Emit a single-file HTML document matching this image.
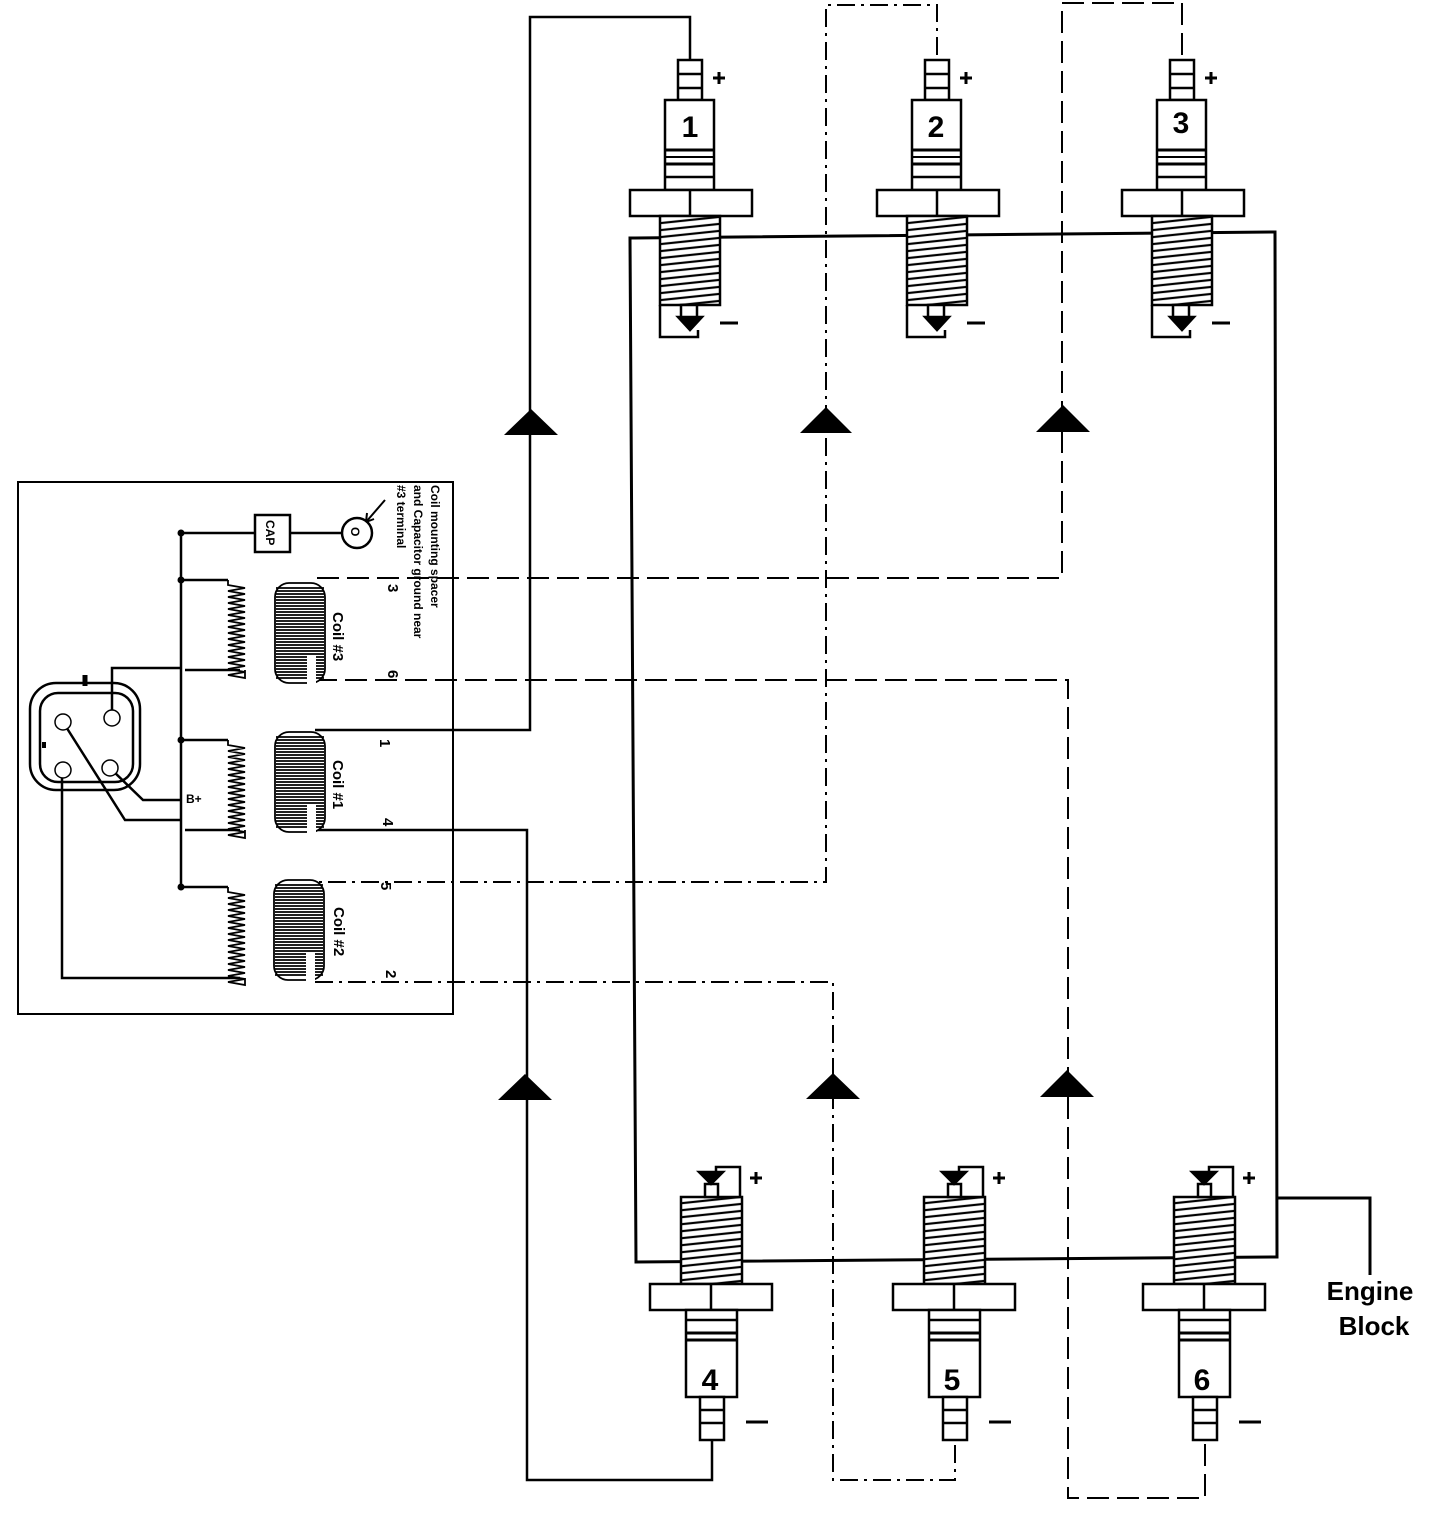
<!DOCTYPE html>
<html><head><meta charset="utf-8"><style>
html,body{margin:0;padding:0;background:#fff}
svg{display:block}
text{font-family:"Liberation Sans",Arial,sans-serif;font-weight:bold;fill:#000}
</style></head><body>
<svg width="1440" height="1538" viewBox="0 0 1440 1538" xmlns="http://www.w3.org/2000/svg">
<defs>
<pattern id="thr" width="8" height="7" patternUnits="userSpaceOnUse" patternTransform="skewY(-6)">
<rect width="8" height="7" fill="#fff"/><line x1="0" y1="3" x2="8" y2="3" stroke="#000" stroke-width="2.2"/>
</pattern>
<g id="topplug" fill="#fff" stroke="#000" stroke-width="2.5">
<rect x="-12" y="60" width="24" height="40"/>
<line x1="-12" y1="74" x2="12" y2="74"/><line x1="-12" y1="88" x2="12" y2="88"/>
<rect x="-25" y="100" width="49" height="90"/>
<line x1="-25" y1="150" x2="24" y2="150" stroke-width="3"/><line x1="-25" y1="157" x2="24" y2="157" stroke-width="2"/><line x1="-25" y1="164" x2="24" y2="164" stroke-width="3"/><line x1="-25" y1="177" x2="24" y2="177"/>
<rect x="-60" y="190" width="122" height="26"/><line x1="0" y1="190" x2="0" y2="216"/>
<rect x="-30" y="216" width="60" height="89" fill="url(#thr)"/>
<path d="M-30 305 V337 H8 V330" fill="none"/>
<rect x="-9" y="305" width="16" height="13"/>
<path d="M-12 317 L12 317 L0 330 Z" fill="#000"/>
<line x1="30" y1="323" x2="48" y2="323" stroke-width="3"/>
<path d="M23 78 H35 M29 72 V84" stroke-width="3"/>
</g>
<g id="botplug" fill="#fff" stroke="#000" stroke-width="2.5">
<rect x="-31" y="1197" width="61" height="87" fill="url(#thr)"/>
<rect x="-62" y="1284" width="122" height="26"/><line x1="-1" y1="1284" x2="-1" y2="1310"/>
<rect x="-26" y="1310" width="51" height="87"/>
<line x1="-26" y1="1320" x2="25" y2="1320"/><line x1="-26" y1="1333" x2="25" y2="1333" stroke-width="3"/><line x1="-26" y1="1340" x2="25" y2="1340" stroke-width="3"/>
<rect x="-12" y="1397" width="24" height="43"/>
<line x1="-12" y1="1410" x2="12" y2="1410"/><line x1="-12" y1="1423" x2="12" y2="1423"/>
<rect x="-7" y="1184" width="13" height="13"/>
<path d="M-13 1172 L11 1172 L-1 1184 Z" fill="#000"/>
<path d="M4 1172 V1167 H28 V1197" fill="none"/>
<line x1="34" y1="1422" x2="56" y2="1422" stroke-width="3"/>
<path d="M38 1178 H50 M44 1172 V1184" stroke-width="3"/>
</g>
<g id="coil" fill="none" stroke="#000" stroke-width="1.8">
<rect x="0" y="0" width="50" height="100" rx="14" fill="#fff"/>
<path d="M1 5 H49 M1 8 H49 M1 11 H49 M1 14 H49 M1 17 H49 M1 20 H49 M1 23 H49 M1 26 H49 M1 29 H49 M1 32 H49 M1 35 H49 M1 38 H49 M1 41 H49 M1 44 H49 M1 47 H49 M1 50 H49 M1 53 H49 M1 56 H49 M1 59 H49 M1 62 H49 M1 65 H49 M1 68 H49 M1 71 H49 M1 74 H49 M1 77 H49 M1 80 H49 M1 83 H49 M1 86 H49 M1 89 H49 M1 92 H49 M1 95 H49"/>
<rect x="32" y="72" width="9" height="29" fill="#fff" stroke="none"/>
</g>
</defs>

<!-- coil box outline -->
<rect x="18" y="482" width="435" height="532" fill="none" stroke="#000" stroke-width="2"/>

<!-- engine block ground loop -->
<g fill="none" stroke="#000" stroke-width="3">
<path d="M630 238 L1275 232 L1277 1257 L636 1262 Z"/>
<path d="M1277 1198 H1370 V1275"/>
</g>

<!-- plugs -->
<use href="#topplug" x="690"/><use href="#topplug" x="937"/><use href="#topplug" x="1182"/>
<use href="#botplug" x="712"/><use href="#botplug" x="955"/><use href="#botplug" x="1205"/>
<g font-size="30">
<text x="690" y="137" text-anchor="middle">1</text>
<text x="936" y="137" text-anchor="middle">2</text>
<text x="1181" y="133" text-anchor="middle">3</text>
<text x="710" y="1390" text-anchor="middle">4</text>
<text x="952" y="1390" text-anchor="middle">5</text>
<text x="1202" y="1390" text-anchor="middle">6</text>
</g>
<text x="1370" y="1300" font-size="26" text-anchor="middle">Engine</text>
<text x="1374" y="1335" font-size="26" text-anchor="middle">Block</text>

<!-- wires -->
<g fill="none" stroke="#000" stroke-width="2.5">
<path d="M690 60 V17 H530 V730 H315"/>
<path d="M315 830 H527 V1480 H712 V1440"/>
</g>
<g fill="none" stroke="#000" stroke-width="2" stroke-dasharray="18,6,3,6">
<path d="M937 55 V5 H826 V882 H315"/>
<path d="M315 982 H833 V1480 H955 V1440"/>
</g>
<g fill="none" stroke="#000" stroke-width="2" stroke-dasharray="22,8">
<path d="M1182 55 V3 H1062 V578 H315"/>
<path d="M315 680 H1068 V1498 H1205 V1440"/>
</g>
<g fill="#000">
<path d="M504 435 L558 435 L531 409 Z"/>
<path d="M800 433 L852 433 L826 407 Z"/>
<path d="M1036 432 L1090 432 L1063 405 Z"/>
<path d="M498 1100 L552 1100 L525 1074 Z"/>
<path d="M806 1099 L860 1099 L833 1073 Z"/>
<path d="M1040 1097 L1094 1097 L1067 1070 Z"/>
</g>

<!-- coil box contents -->
<g fill="none" stroke="#000" stroke-width="2.5">
<path d="M181 533 V887"/>
<path d="M181 533 H255 M290 533 H342"/>
<rect x="255" y="515" width="35" height="37" fill="#fff"/>
<circle cx="357" cy="533" r="15" fill="#fff"/>
<path d="M181 580 H228 M181 740 H228 M181 887 H228"/>
<path d="M240 670 H185 M240 830 H185 M240 978 H62 V772"/>
<path d="M112 718 V668 H181"/>
<path d="M110 768 L143 800 H181"/>
<path d="M63 722 L125 820 H181"/>
<rect x="30" y="683" width="110" height="107" rx="26"/>
<rect x="40" y="693" width="93" height="89" rx="18"/>
<path d="M85 675 V686" stroke-width="5"/>
<path d="M42 745 h4" stroke-width="6"/>
</g>
<g fill="#fff" stroke="#000" stroke-width="1.5">
<circle cx="63" cy="722" r="8"/><circle cx="112" cy="718" r="8"/><circle cx="63" cy="770" r="8"/><circle cx="110" cy="768" r="8"/>
</g>
<g fill="#000">
<circle cx="181" cy="533" r="3.5"/><circle cx="181" cy="580" r="3.5"/><circle cx="181" cy="740" r="3.5"/><circle cx="181" cy="887" r="3.5"/>
</g>
<g fill="none" stroke="#000" stroke-width="1.8">
<path d="M228 580 V585 l17 3 -17 3 17 3 -17 3 17 3 -17 3 17 3 -17 3 17 3 -17 3 17 3 -17 3 17 3 -17 3 17 3 -17 3 17 3 -17 3 17 3 -17 3 17 3 -17 3 17 3 -17 3 17 3 -17 3 17 3 -17 3 17 3 -17 3 17 3 V670"/>
<path d="M228 740 V745 l17 3 -17 3 17 3 -17 3 17 3 -17 3 17 3 -17 3 17 3 -17 3 17 3 -17 3 17 3 -17 3 17 3 -17 3 17 3 -17 3 17 3 -17 3 17 3 -17 3 17 3 -17 3 17 3 -17 3 17 3 -17 3 17 3 -17 3 17 3 V830"/>
<path d="M228 887 V892 l17 3 -17 3 17 3 -17 3 17 3 -17 3 17 3 -17 3 17 3 -17 3 17 3 -17 3 17 3 -17 3 17 3 -17 3 17 3 -17 3 17 3 -17 3 17 3 -17 3 17 3 -17 3 17 3 -17 3 17 3 -17 3 17 3 -17 3 17 3 V978"/>
</g>
<use href="#coil" x="275" y="583"/>
<use href="#coil" x="275" y="732"/>
<use href="#coil" x="274" y="880"/>
<g font-size="15">
<text transform="translate(333,612) rotate(90)">Coil #3</text>
<text transform="translate(333,760) rotate(90)">Coil #1</text>
<text transform="translate(334,907) rotate(90)">Coil #2</text>
<text transform="translate(388,584) rotate(90)">3</text>
<text transform="translate(388,670) rotate(90)">6</text>
<text transform="translate(380,739) rotate(90)">1</text>
<text transform="translate(383,818) rotate(90)">4</text>
<text transform="translate(381,882) rotate(90)">5</text>
<text transform="translate(386,970) rotate(90)">2</text>
</g>
<g font-size="12">
<text transform="translate(431,485) rotate(90)">Coil mounting spacer</text>
<text transform="translate(414,485) rotate(90)">and Capacitor ground near</text>
<text transform="translate(397,485) rotate(90)">#3 terminal</text>
<text transform="translate(266,520) rotate(90)">CAP</text>
<text transform="translate(351,527) rotate(90)">O</text>
<text x="186" y="803">B+</text>
</g>
<path d="M385 500 L366 522 M366 522 l1 -9 M366 522 l8 -3" stroke="#000" stroke-width="2" fill="none"/>
</svg>
</body></html>
